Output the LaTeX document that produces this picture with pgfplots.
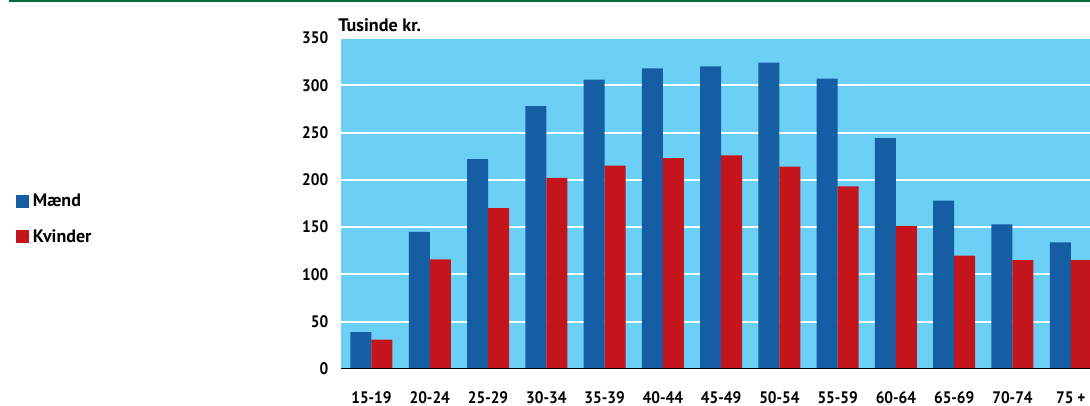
\documentclass[border=0pt]{standalone}
\usepackage{pgfplots}
\pgfplotsset{compat=1.18}
\usepackage{fontspec}
\setmainfont{PT Sans}
\newfontfamily\condfont[FakeStretch=0.92]{PT Sans}
\definecolor{mblue}{RGB}{21,94,163}
\definecolor{kred}{RGB}{196,20,28}
\definecolor{bgblue}{RGB}{108,207,246}
\definecolor{dgreen}{RGB}{0,110,60}
\begin{document}
\begin{tikzpicture}
\useasboundingbox (0,0) rectangle (817.5pt,304.5pt);
\fill[dgreen] (6.75pt,302.75pt) rectangle (817.5pt,304.5pt);
\node[anchor=west, inner sep=0pt, font=\bfseries\fontsize{13.6}{15}\selectfont] at (253.5pt,285.75pt) {Tusinde kr.};
\begin{axis}[
  at={(255.75pt,27.75pt)}, anchor=south west,
  scale only axis, width=561.75pt, height=248.25pt,
  ybar, bar width=15.75pt,
  xmin=-0.523, xmax=12.33, ymin=0, ymax=350,
  enlargelimits=false,
  axis background/.style={fill=bgblue},
  axis line style={draw=none},
  major tick length=0pt,
  ytick={0,50,...,350},
  ymajorgrids, grid style={white, line width=1.5pt},
  xtick={0,...,12},
  xticklabels={15-19,20-24,25-29,30-34,35-39,40-44,45-49,50-54,55-59,60-64,65-69,70-74,75 +},
  /pgf/number format/assume math mode=true,
  tick label style={font=\condfont\bfseries\fontsize{12.5}{14}\selectfont},
  yticklabel style={xshift=-6pt},
  xticklabel style={anchor=base, inner sep=0pt, text depth=0pt, yshift=-25.6pt},
  legend style={at={(-0.4339,0.5332)}, anchor=north west, draw=none, fill=none,
    inner sep=0pt, row sep=13.5pt, font=\bfseries\fontsize{13.5}{15}\selectfont,
    nodes={inner sep=1pt}},
  legend cell align=left,
  legend image code/.code={\fill[#1] (0pt,-4.875pt) rectangle (9.75pt,4.875pt); \path (0pt,0pt) -- (11.5pt,0pt);},
]
\addplot[fill=mblue, draw=none, bar shift=-7.875pt] coordinates {
(0,39) (1,145) (2,222) (3,278) (4,306) (5,318) (6,320) (7,324) (8,307) (9,244) (10,178) (11,153) (12,134)};
\addlegendentry{Mænd}
\addplot[fill=kred, draw=none, bar shift=7.875pt] coordinates {
(0,31) (1,116) (2,170) (3,202) (4,215) (5,223) (6,226) (7,214) (8,193) (9,151) (10,120) (11,115) (12,115)};
\addlegendentry{Kvinder}
\draw[black, line width=1.5pt] (rel axis cs:0,0) -- (rel axis cs:1,0);
\end{axis}
\end{tikzpicture}
\end{document}
